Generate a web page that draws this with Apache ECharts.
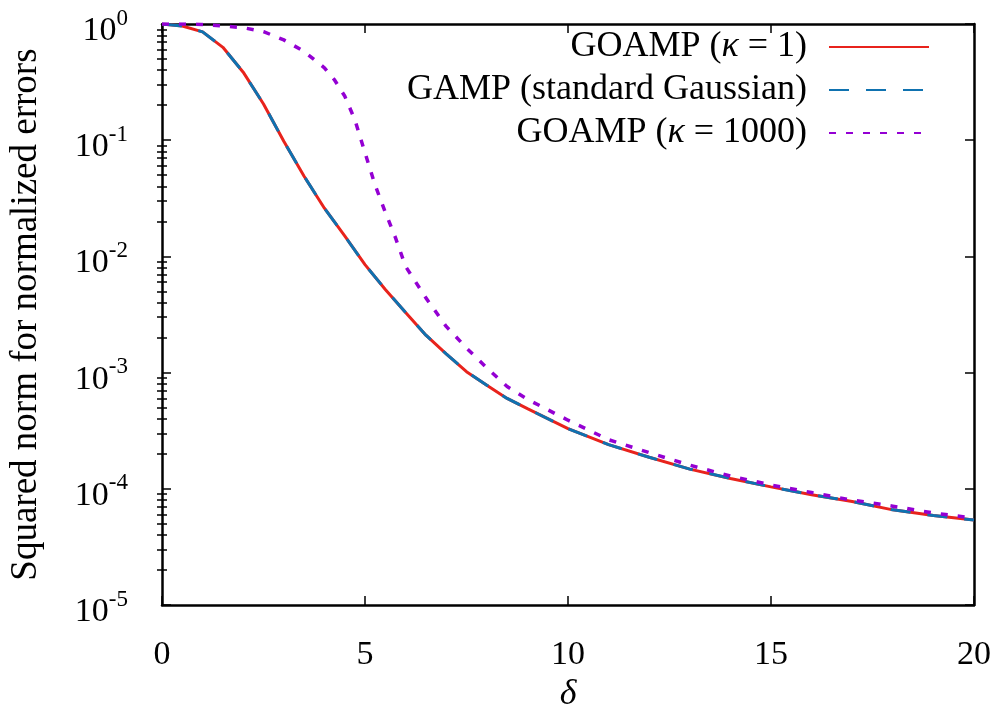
<!DOCTYPE html>
<html>
<head>
<meta charset="utf-8">
<script src="https://cdn.jsdelivr.net/npm/echarts@6/dist/echarts.min.js"></script>
<style>
    html, body { margin: 0; padding: 0; background: #fff; }
    #chart { width: 997px; height: 718px; }
</style>
</head>
<body>
<div id="chart"></div>
<script>
// delta values and squared error norms
const deltaSolid = [0, 0.5, 1, 1.5, 2, 2.5, 3, 3.5, 4, 4.5, 5, 5.5, 6, 6.5, 7, 7.5, 8, 8.5, 9,
    10, 11, 12, 13, 14, 15, 16, 17, 18, 19, 20];
const goampK1 = [1.0, 0.96, 0.855, 0.63, 0.385, 0.205, 0.098, 0.049, 0.026, 0.015, 0.0085, 0.0052,
    0.0033, 0.0021, 0.00145, 0.00102, 0.00078, 0.0006, 0.00049,
    0.00033, 0.00024, 0.000187, 0.000148, 0.000123, 0.000104, 0.000089, 0.000078, 0.000066, 0.000059, 0.000054];
const gampGauss = goampK1.slice();

const deltaK1000 = [0, 0.5, 1, 1.5, 2, 2.5, 3, 3.5, 4, 4.25, 4.5, 4.75, 5, 5.25, 5.5, 5.75, 6, 6.5, 7, 7.5, 8, 8.5, 9,
    10, 11, 12, 13, 14, 15, 16, 17, 18, 19, 20];
const goampK1000 = [1.0, 1.0, 0.99, 0.96, 0.93, 0.86, 0.73, 0.58, 0.42, 0.33, 0.24, 0.15, 0.078, 0.041, 0.024, 0.0145,
    0.0082, 0.0044, 0.0025, 0.00163, 0.0011, 0.00076, 0.00059,
    0.00039, 0.000265, 0.000205, 0.00016, 0.000129, 0.000108, 0.000093, 0.00008, 0.000071, 0.000062, 0.000056];

const seriesNames = ['GOAMP (κ = 1)', 'GAMP (standard Gaussian)', 'GOAMP (κ = 1000)'];
const xTicks = [0, 5, 10, 15, 20];
const yMin = 1e-5, yMax = 1;

const FONT = '"Liberation Serif", "Times New Roman", serif';

function pairs(xs, ys) {
    return xs.map(function (x, i) { return [x, ys[i]]; });
}

// minor ticks 2..9 in every decade
let minorTicks = [];
for (let e = -5; e < 0; e++) {
    for (let k = 2; k <= 9; k++) {
        minorTicks.push(k * Math.pow(10, e));
    }
}

const frameLine = { show: true, onZero: false, lineStyle: { color: '#000', width: 2.5 } };

function logAxis(position, major, labels) {
    return {
        type: 'log',
        logBase: 10,
        min: yMin,
        max: yMax,
        position: position,
        axisLine: major ? frameLine : { show: false },
        axisTick: major
            ? { show: true, inside: true, length: 9, lineStyle: { color: '#000', width: 1.5 } }
            : { show: true, inside: true, length: 5, customValues: minorTicks, lineStyle: { color: '#000', width: 1.5 } },
        axisLabel: labels ? {
            show: true,
            margin: 34,
            formatter: function (v) {
                return '{b|10}{s|' + Math.round(Math.log10(v)) + '}';
            },
            rich: {
                b: { fontFamily: FONT, fontSize: 34, color: '#000', lineHeight: 34, padding: [14, 0, 0, 0] },
                s: { fontFamily: FONT, fontSize: 23, color: '#000', lineHeight: 22, verticalAlign: 'top' }
            }
        } : { show: false },
        splitLine: { show: false },
        minorTick: { show: false },
        minorSplitLine: { show: false }
    };
}

let yLeft = logAxis('left', true, true);
yLeft.name = 'Squared norm for normalized errors';
yLeft.nameLocation = 'middle';
yLeft.nameGap = 117;
yLeft.nameTextStyle = { fontFamily: FONT, fontSize: 37, color: '#000' };

const chart = echarts.init(document.getElementById('chart'));

chart.setOption({
    animation: false,
    backgroundColor: '#fff',
    grid: { left: 160, right: 23, top: 23, bottom: 106, containLabel: false },
    legend: {
        orient: 'vertical',
        align: 'right',
        right: 62,
        top: 24,
        itemWidth: 100,
        itemHeight: 14,
        itemGap: 7,
        data: seriesNames,
        itemStyle: { opacity: 0, borderWidth: 0 },
        formatter: function (name) {
            let m = name.match(/^(.*\()κ( = .*)$/);
            if (m) return '{n|' + m[1] + '}{i|κ}{n|' + m[2] + '}';
            return '{n|' + name + '}';
        },
        textStyle: {
            padding: [0, 17, 0, 0],
            rich: {
                n: { fontFamily: FONT, fontSize: 36, color: '#000', lineHeight: 38 },
                i: { fontFamily: FONT, fontSize: 36, fontStyle: 'italic', color: '#000', lineHeight: 38 }
            }
        }
    },
    xAxis: [
        {
            type: 'value',
            min: 0,
            max: 20,
            interval: 5,
            position: 'bottom',
            name: 'δ',
            nameLocation: 'middle',
            nameGap: 64,
            nameTextStyle: { fontFamily: FONT, fontSize: 36, fontStyle: 'italic', color: '#000' },
            axisLine: frameLine,
            axisTick: { show: true, inside: true, length: 9, lineStyle: { color: '#000', width: 1.5 } },
            axisLabel: {
                margin: 33,
                fontFamily: FONT,
                fontSize: 34,
                color: '#000',
                customValues: xTicks
            },
            splitLine: { show: false }
        },
        {
            type: 'value',
            min: 0,
            max: 20,
            interval: 5,
            position: 'top',
            axisLine: frameLine,
            axisTick: { show: true, inside: true, length: 9, lineStyle: { color: '#000', width: 1.5 } },
            axisLabel: { show: false },
            splitLine: { show: false }
        }
    ],
    yAxis: [
        yLeft,
        logAxis('left', false, false),
        logAxis('right', true, false),
        logAxis('right', false, false)
    ],
    series: [
        {
            name: seriesNames[0],
            type: 'line',
            data: pairs(deltaSolid, goampK1),
            showSymbol: false,
            symbol: 'none',
            color: '#e8231c',
            lineStyle: { color: '#e8231c', width: 3 },
            z: 2
        },
        {
            name: seriesNames[1],
            type: 'line',
            data: pairs(deltaSolid, gampGauss),
            showSymbol: false,
            symbol: 'none',
            color: '#0f72b0',
            lineStyle: { color: '#0f72b0', width: 3, type: [20, 17] },
            z: 3
        },
        {
            name: seriesNames[2],
            type: 'line',
            data: pairs(deltaK1000, goampK1000),
            showSymbol: false,
            symbol: 'none',
            color: '#9400d3',
            lineStyle: { color: '#9400d3', width: 3.5, type: [7, 10] },
            z: 4
        }
    ]
});

window.addEventListener('resize', function () {
    chart.resize();
});
</script>
</body>
</html>
